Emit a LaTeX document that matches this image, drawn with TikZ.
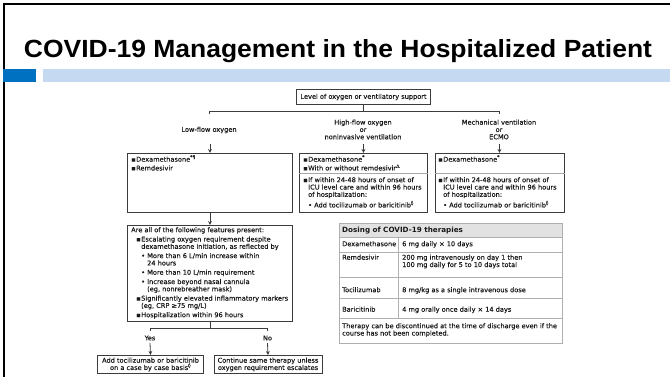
\documentclass[tikz,border=0pt]{standalone}
\usepackage{fontspec}
\usepackage{graphicx}
\setmainfont{DejaVu Sans}
\newfontfamily\titlefont{Liberation Sans}
\newfontfamily\flowfont{DejaVu Sans}[FakeBold=0.35]
\usetikzlibrary{arrows.meta}

\definecolor{barblue}{RGB}{0,112,192}
\definecolor{barlight}{RGB}{197,217,240}
\definecolor{boxline}{RGB}{60,60,60}
\definecolor{tabline}{RGB}{175,175,175}
\definecolor{tabhead}{RGB}{226,226,226}
\definecolor{txtgray}{RGB}{25,25,25}

\newcommand{\sqitem}{\makebox[5pt][l]{▪}}
\newcommand{\dotitem}{\makebox[6pt][l]{•}}
\newcommand{\fnsym}[1]{\textsuperscript{#1}}

\tikzset{
  flowbox/.style = {draw=boxline, line width=1pt, inner sep=0pt, anchor=north west},
  flowtxt/.style = {font=\flowfont\fontsize{6.6}{7.3}\selectfont, text=txtgray, align=left, anchor=north west, inner sep=0pt},
  ctrtxt/.style  = {font=\flowfont\fontsize{6.6}{7.3}\selectfont, text=txtgray, align=center, inner sep=0pt},
  flowline/.style = {draw=boxline, line width=0.8pt},
  flowarrow/.style = {flowline, -{Stealth[length=4pt,width=3.8pt]}},
  tabrule/.style = {draw=tabline, line width=0.8pt}
}

\begin{document}
\begin{tikzpicture}[x=1pt, y=-1pt]
    \useasboundingbox (0,0) rectangle (670,377);
    % slide frame, title and bar
    \draw[line width=2.5pt] (4,377) -- (4,4) -- (670,4);
    \node[anchor=base] (title) at (338,58) {\titlefont\bfseries\resizebox{628pt}{18pt}{COVID-19 Management in the Hospitalized Patient}};
    \fill[barblue] (3,69) rectangle (36,82);
    \fill[barlight] (43,69) rectangle (670,82);

    % level of support and the three branches
    \node[flowbox, ctrtxt, minimum width=134pt, minimum height=15pt] (level) at (296,89) {Level of oxygen or ventilatory support};
    \coordinate (lfTop) at (209,111.5);
    \coordinate (mvTop) at (499,111.5);
    \draw[flowline] (level.south) -- (level.south |- lfTop);
    \draw[flowline] ([yshift=-3pt]lfTop) -- (lfTop) -- (mvTop) -- ([yshift=-3pt]mvTop);
    \node[ctrtxt] (lflab) at (209,130) {Low-flow oxygen};
    \node[ctrtxt] (hflab) at (363,129.5) {High-flow oxygen\\or\\noninvasive ventilation};
    \node[ctrtxt] (mvlab) at (499,129.5) {Mechanical ventilation\\or\\ECMO};

    \node[flowbox, minimum width=165pt, minimum height=59pt] (lf1) at (127,153) {};
    \node[flowbox, minimum width=128pt, minimum height=59pt] (hf) at (299,153) {};
    \node[flowbox, minimum width=129pt, minimum height=59pt] (mv) at (434.5,153) {};
    \draw[flowarrow] ([yshift=9pt]lf1.north) -- (lf1.north);
    \draw[flowarrow] ([yshift=9pt]hf.north) -- (hf.north);
    \draw[flowarrow] ([yshift=9pt]mv.north) -- (mv.north);
    \draw[flowline, draw=boxline!45] ([yshift=-20pt]hf.north west) -- ([yshift=-20pt]hf.north east);
    \draw[flowline, draw=boxline!45] ([yshift=-20pt]mv.north west) -- ([yshift=-20pt]mv.north east);

    \node[flowtxt] (lf1txt) at (131,155) {\sqitem Dexamethasone\fnsym{*¶}\\[1.5pt]\sqitem Remdesivir};
    \node[flowtxt] (hftop) at (303,155) {\sqitem Dexamethasone\fnsym{*}\\[1.5pt]\sqitem With or without remdesivir\fnsym{△}};
    \node[flowtxt] (hfbot) at (303,177) {\sqitem If within 24-48 hours of onset of\\\hspace*{5pt}ICU level care and within 96 hours\\\hspace*{5pt}of hospitalization:\\[1.5pt]\hspace*{5pt}\dotitem Add tocilizumab or baricitinib\fnsym{◊}};
    \node[flowtxt] (mvtop) at (438,155) {\sqitem Dexamethasone\fnsym{*}};
    \node[flowtxt] (mvbot) at (438,177) {\sqitem If within 24-48 hours of onset of\\\hspace*{5pt}ICU level care and within 96 hours\\\hspace*{5pt}of hospitalization:\\[1.5pt]\hspace*{5pt}\dotitem Add tocilizumab or baricitinib\fnsym{◊}};

    % low-flow decision
    \node[flowbox, minimum width=165pt, minimum height=96pt] (lf2) at (127,225) {};
    \draw[flowarrow] (lf1.south) -- (lf2.north);
    \node[flowtxt] (lf2txt) at (131,227) {Are all of the following features present:\\[2pt]
        \hspace*{5pt}\sqitem Escalating oxygen requirement despite\\
        \hspace*{10pt}dexamethasone initiation, as reflected by\\[2pt]
        \hspace*{10pt}\dotitem More than 6 L/min increase within\\
        \hspace*{16pt}24 hours\\[2pt]
        \hspace*{10pt}\dotitem More than 10 L/min requirement\\[2pt]
        \hspace*{10pt}\dotitem Increase beyond nasal cannula\\
        \hspace*{16pt}(eg, nonrebreather mask)\\[2pt]
        \hspace*{5pt}\sqitem Significantly elevated inflammatory markers\\
        \hspace*{10pt}(eg, CRP ≥75 mg/L)\\[2pt]
        \hspace*{5pt}\sqitem Hospitalization within 96 hours};

    \coordinate (yesTop) at (150,328);
    \coordinate (noTop) at (267.5,328);
    \draw[flowline] (lf2.south) -- (lf2.south |- yesTop);
    \draw[flowline] ([yshift=-3pt]yesTop) -- (yesTop) -- (noTop) -- ([yshift=-3pt]noTop);
    \node[ctrtxt] (yeslab) at (150,338) {Yes};
    \node[ctrtxt] (nolab) at (267.5,338) {No};
    \node[flowbox, ctrtxt, minimum width=106pt, minimum height=18pt] (yesbox) at (97,355) {Add tocilizumab or baricitinib\\on a case by case basis\fnsym{◊}};
    \node[flowbox, ctrtxt, minimum width=108pt, minimum height=18pt] (nobox) at (213.5,355) {Continue same therapy unless\\oxygen requirement escalates};
    \draw[flowarrow] ([yshift=-2.5pt]yeslab.south) -- (yesbox.north);
    \draw[flowarrow] ([yshift=-2.5pt]nolab.south) -- (nobox.north);

    % dosing table
    \node[tabrule, fill=tabhead, minimum width=223pt, minimum height=14pt, inner sep=0pt, anchor=north west] (dosehead) at (339,223) {};
    \node[anchor=west, inner sep=0pt, font=\fontsize{7.2}{8}\selectfont\bfseries, text=txtgray] (dosetitle) at ([xshift=3pt]dosehead.west) {Dosing of COVID-19 therapies};
    \draw[tabrule] (339,237) rectangle (562,343);
    \foreach \rowy in {252,277,298,318}
        \draw[tabrule] (339,\rowy) -- (562,\rowy);
    \draw[tabrule] (398,237) -- (398,318);

    \node[flowtxt] (dexa) at (342,241) {Dexamethasone};
    \node[flowtxt] (dexadose) at (402,241) {6 mg daily × 10 days};
    \node[flowtxt] (remd) at (342,254.5) {Remdesivir};
    \node[flowtxt] (remddose) at (402,254.5) {200 mg intravenously on day 1 then\\100 mg daily for 5 to 10 days total};
    \node[flowtxt] (toci) at (342,287) {Tocilizumab};
    \node[flowtxt] (tocidose) at (402,287) {8 mg/kg as a single intravenous dose};
    \node[flowtxt] (bari) at (342,306.5) {Baricitinib};
    \node[flowtxt] (baridose) at (402,306.5) {4 mg orally once daily × 14 days};
    \node[flowtxt] (stopnote) at (342,323) {Therapy can be discontinued at the time of discharge even if the\\course has not been completed.};
\end{tikzpicture}
\end{document}
